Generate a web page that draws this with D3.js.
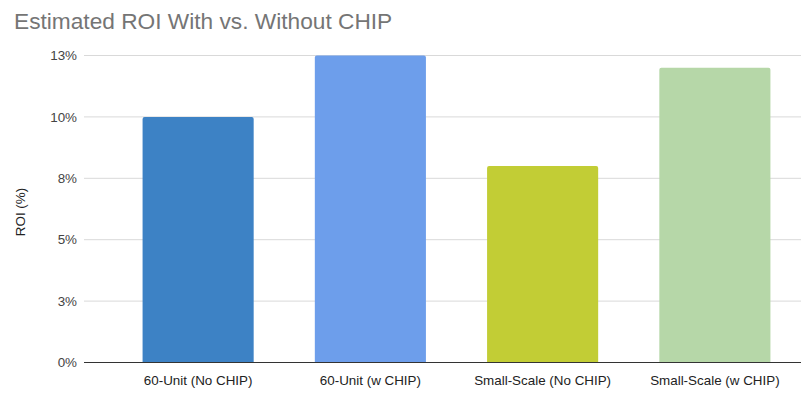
<!DOCTYPE html>
<html>
<head>
<meta charset="utf-8">
<script src="https://cdn.jsdelivr.net/npm/d3@7"></script>
<style>
  body { margin: 0; background: #fff; }
  text { font-family: "Liberation Sans", Arial, sans-serif; }
</style>
</head>
<body>
<div id="chart"></div>
<script>
var categories = ["60-Unit (No CHIP)", "60-Unit (w CHIP)", "Small-Scale (No CHIP)", "Small-Scale (w CHIP)"];
var roiValues = [10, 12.5, 8, 12];
var barColours = ["#3d82c5", "#6d9eeb", "#c2cd35", "#b6d7a8"];
var tickValues = [0, 2.5, 5, 7.5, 10, 12.5];
var tickLabels = ["0%", "3%", "5%", "8%", "10%", "13%"];

var width = 801, height = 399;
var margin = {left: 84, top: 56, right: 0, bottom: 36};

var svg = d3.select("#chart").append("svg")
    .attr("width", width)
    .attr("height", height);

svg.append("text")
    .attr("x", 14)
    .attr("y", 29)
    .attr("font-size", 22.7)
    .attr("fill", "#757575")
    .text("Estimated ROI With vs. Without CHIP");

var x = d3.scaleBand()
    .domain(categories)
    .range([112, width])
    .paddingInner(0.355)
    .paddingOuter(0.1775);

var y = d3.scaleLinear()
    .domain([0, 12.5])
    .range([height - margin.bottom - 0.5, margin.top - 0.5]);

// gridlines
svg.append("g")
    .selectAll("line")
    .data(tickValues.slice(1))
    .enter().append("line")
    .attr("x1", margin.left)
    .attr("x2", width)
    .attr("y1", function(d) { return y(d); })
    .attr("y2", function(d) { return y(d); })
    .attr("stroke", "#d9d9d9")
    .attr("stroke-width", 1);

// y axis labels
var yAxis = svg.append("g")
    .attr("transform", "translate(" + (margin.left - 6) + ",0)")
    .call(d3.axisLeft(y).tickValues(tickValues).tickSize(0).tickPadding(1)
        .tickFormat(function(d, i) { return tickLabels[i]; }));
yAxis.select(".domain").remove();
yAxis.selectAll("text")
    .attr("font-size", 13.4)
    .attr("fill", "#444")
    .style("font-family", "Liberation Sans, Arial, sans-serif");

svg.append("text")
    .attr("transform", "translate(25," + 212 + ") rotate(-90)")
    .attr("text-anchor", "middle")
    .attr("font-size", 13.4)
    .attr("fill", "#222")
    .text("ROI (%)");

// bars
svg.selectAll(".bar")
    .data(roiValues)
    .enter().append("path")
    .attr("class", "bar")
    .attr("d", function(d, i) {
        var x0 = x(categories[i]), w = x.bandwidth(), y0 = y(d), y1 = y(0), r = 2;
        return "M" + x0 + "," + y1 + "V" + (y0 + r) + "Q" + x0 + "," + y0 + " " + (x0 + r) + "," + y0 +
            "H" + (x0 + w - r) + "Q" + (x0 + w) + "," + y0 + " " + (x0 + w) + "," + (y0 + r) + "V" + y1 + "Z";
    })
    .attr("fill", function(d, i) { return barColours[i]; });

// baseline
svg.append("line")
    .attr("x1", margin.left)
    .attr("x2", width)
    .attr("y1", y(0))
    .attr("y2", y(0))
    .attr("stroke", "#333")
    .attr("stroke-width", 1);

// x axis labels
var xAxis = svg.append("g")
    .attr("transform", "translate(0," + (y(0) + 6) + ")")
    .call(d3.axisBottom(x).tickSize(0).tickPadding(7));
xAxis.select(".domain").remove();
xAxis.selectAll("text")
    .attr("font-size", 13.4)
    .attr("fill", "#222")
    .style("font-family", "Liberation Sans, Arial, sans-serif");
</script>
</body>
</html>
